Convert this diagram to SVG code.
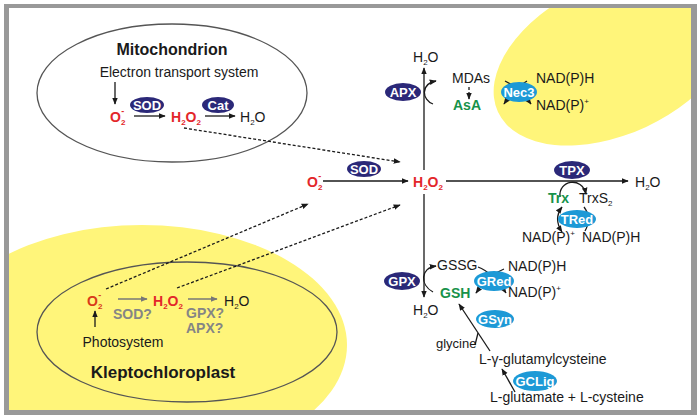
<svg xmlns="http://www.w3.org/2000/svg" width="700" height="420" viewBox="0 0 700 420">
<style>
text{font-family:"Liberation Sans",Arial,sans-serif;font-size:14px;fill:#1a1a1a}
.b{font-weight:bold}
.red{fill:#e3262a;font-weight:bold}
.orange{fill:#d83a1a;font-weight:bold}
.grn{fill:#17924a;font-weight:bold}
.gry{fill:#858585;font-weight:bold}
.ew{fill:#fff;font-weight:bold;font-size:13px;text-anchor:middle}
.navy{fill:#2b2878}
.blue{fill:#1d99d6}
.ln{stroke:#1a1a1a;stroke-width:1.3;fill:none}
.dash{stroke:#1a1a1a;stroke-width:1.3;fill:none;stroke-dasharray:3 2}
.gl{stroke:#777;stroke-width:1.5;fill:none}
.mem{fill:none;stroke:#555;stroke-width:1.3}
</style>
<defs>
<marker id="ah" viewBox="0 0 10 10" refX="9" refY="5" markerWidth="7" markerHeight="7" markerUnits="userSpaceOnUse" orient="auto-start-reverse"><path d="M0,1 L10,5 L0,9 z" fill="#1a1a1a"/></marker>
<marker id="ahg" viewBox="0 0 10 10" refX="9" refY="5" markerWidth="7" markerHeight="7" markerUnits="userSpaceOnUse" orient="auto"><path d="M0,1 L10,5 L0,9 z" fill="#777"/></marker>
<clipPath id="inner"><rect x="9" y="8" width="682" height="402"/></clipPath>
</defs>
<rect x="0" y="0" width="700" height="420" fill="#fff"/>
<rect x="4" y="4" width="693" height="411" fill="#999"/>
<rect x="9" y="8" width="682" height="402" fill="#fff"/>
<g clip-path="url(#inner)">
<ellipse cx="614" cy="58" rx="128" ry="76" transform="rotate(-25 614 58)" fill="#fff57a"/>
<ellipse cx="142" cy="345" rx="205" ry="120" fill="#fff57a"/>
</g>

<g id="mitochondrion">
<ellipse class="mem" cx="172" cy="93" rx="135" ry="69"/>
<text class="b" x="172" y="55" text-anchor="middle" style="font-size:16px">Mitochondrion</text>
<text x="179" y="77" text-anchor="middle">Electron transport system</text>
<line class="ln" x1="115" y1="82" x2="115" y2="104" marker-end="url(#ah)"/>
<text class="red" x="110" y="122">O<tspan dy="3" font-size="8">2</tspan><tspan dx="-4" dy="-11" font-size="9">-</tspan></text>
<ellipse class="navy" cx="147" cy="105" rx="17" ry="8"/>
<text class="ew" x="147" y="110">SOD</text>
<line class="ln" x1="134" y1="116" x2="165" y2="116" marker-end="url(#ah)"/>
<text class="red" x="171" y="122">H<tspan dy="3" font-size="8">2</tspan><tspan dy="-3">O</tspan><tspan dy="3" font-size="8">2</tspan></text>
<ellipse class="navy" cx="218" cy="105" rx="16" ry="8"/>
<text class="ew" x="218" y="110">Cat</text>
<line class="ln" x1="205" y1="116" x2="235" y2="116" marker-end="url(#ah)"/>
<text x="240" y="122">H<tspan dy="3" font-size="8">2</tspan><tspan dy="-3">O</tspan></text>
</g>

<g id="kleptochloroplast">
<ellipse class="mem" cx="187" cy="332" rx="150" ry="70"/>
<text class="b" x="163" y="378" text-anchor="middle" style="font-size:17px">Kleptochloroplast</text>
<text class="orange" x="87" y="306">O<tspan dy="3" font-size="8">2</tspan><tspan dx="-4" dy="-11" font-size="9">-</tspan></text>
<line class="gl" x1="118" y1="299" x2="147" y2="299" marker-end="url(#ahg)"/>
<text class="gry" x="113" y="319">SOD?</text>
<text class="red" x="153" y="306">H<tspan dy="3" font-size="8">2</tspan><tspan dy="-3">O</tspan><tspan dy="3" font-size="8">2</tspan></text>
<line class="gl" x1="188" y1="299" x2="217" y2="299" marker-end="url(#ahg)"/>
<text class="gry" x="186" y="318">GPX?</text>
<text class="gry" x="186" y="333">APX?</text>
<text x="224" y="306">H<tspan dy="3" font-size="8">2</tspan><tspan dy="-3">O</tspan></text>
<line class="ln" x1="95" y1="327" x2="95" y2="311" marker-end="url(#ah)"/>
<text x="123" y="347" text-anchor="middle">Photosystem</text>
</g>

<g id="connectors">
<line class="dash" x1="184" y1="128" x2="400" y2="162" marker-end="url(#ah)"/>
<line class="dash" x1="106" y1="289" x2="308" y2="204" marker-end="url(#ah)"/>
<line class="dash" x1="177" y1="288" x2="400" y2="205" marker-end="url(#ah)"/>
<line class="ln" x1="323" y1="181" x2="408" y2="181" marker-end="url(#ah)"/>
<line class="ln" x1="424" y1="170" x2="424" y2="68" marker-end="url(#ah)"/>
<line class="ln" x1="424" y1="194" x2="424" y2="297" marker-end="url(#ah)"/>
<line class="ln" x1="446" y1="181" x2="628" y2="181" marker-end="url(#ah)"/>
<path class="ln" d="M433,104 C422,100 420,84 436,81" marker-end="url(#ah)"/>
<line class="dash" x1="469" y1="87" x2="469" y2="99" marker-end="url(#ah)"/>
<path class="ln" d="M505,81 Q519,88 531,104" marker-end="url(#ah)"/>
<path class="ln" d="M527,81 Q515,88 504,104" marker-end="url(#ah)"/>
<path class="ln" d="M560,197 C558,180 582,176 586,194" marker-end="url(#ah)"/>
<path class="ln" d="M562,207 C556,215 556,223 562,232" marker-start="url(#ah)" marker-end="url(#ah)"/>
<path class="ln" d="M584,207 C590,215 590,222 585,231"/>
<path class="ln" d="M433,292 C420,285 420,268 436,266" marker-end="url(#ah)"/>
<path class="ln" d="M478,267 Q492,272 506,293" marker-end="url(#ah)"/>
<path class="ln" d="M504,269 Q490,274 476,293" marker-end="url(#ah)"/>
<line class="ln" x1="490" y1="351" x2="459" y2="304" marker-end="url(#ah)"/>
<line class="ln" x1="475" y1="345" x2="478" y2="333"/>
<line class="ln" x1="515" y1="392" x2="502" y2="369" marker-end="url(#ah)"/>
</g>

<g id="main-o2">
<text class="red" x="307" y="187">O<tspan dy="3" font-size="8">2</tspan><tspan dx="-4" dy="-11" font-size="9">-</tspan></text>
<ellipse class="navy" cx="364" cy="169" rx="17" ry="8"/>
<text class="ew" x="364" y="174">SOD</text>
</g>
<g id="main-h2o2">
<text class="red" x="413" y="187">H<tspan dy="3" font-size="8">2</tspan><tspan dy="-3">O</tspan><tspan dy="3" font-size="8">2</tspan></text>
</g>
<g id="apx">
<text x="413" y="62">H<tspan dy="3" font-size="8">2</tspan><tspan dy="-3">O</tspan></text>
<ellipse class="navy" cx="403" cy="92" rx="18" ry="9"/>
<text class="ew" x="403" y="97">APX</text>
<text x="452" y="83">MDAs</text>
<text class="grn" x="453" y="110">AsA</text>
</g>
<g id="nec3">
<ellipse class="blue" cx="519" cy="92" rx="18" ry="10"/>
<text class="ew" x="519" y="97">Nec3</text>
<text x="536" y="83">NAD(P)H</text>
<text x="536" y="110">NAD(P)<tspan dy="-6" font-size="8">+</tspan></text>
</g>
<g id="tpx">
<ellipse class="navy" cx="572" cy="170" rx="18" ry="9"/>
<text class="ew" x="572" y="175">TPX</text>
<text x="635" y="187">H<tspan dy="3" font-size="8">2</tspan><tspan dy="-3">O</tspan></text>
<text class="grn" x="548" y="203">Trx</text>
<text x="579" y="203">TrxS<tspan dy="3" font-size="8">2</tspan></text>
</g>
<g id="tred">
<ellipse class="blue" cx="577" cy="219" rx="19" ry="9"/>
<text class="ew" x="577" y="224">TRed</text>
<text x="522" y="242">NAD(P)<tspan dy="-6" font-size="8">+</tspan></text>
<text x="582" y="242">NAD(P)H</text>
</g>
<g id="gpx">
<ellipse class="navy" cx="402" cy="281" rx="18" ry="9"/>
<text class="ew" x="402" y="286">GPX</text>
<text x="413" y="315">H<tspan dy="3" font-size="8">2</tspan><tspan dy="-3">O</tspan></text>
<text x="437" y="270">GSSG</text>
<text class="grn" x="440" y="298">GSH</text>
</g>
<g id="gred">
<ellipse class="blue" cx="494" cy="281" rx="20" ry="10"/>
<text class="ew" x="494" y="286">GRed</text>
<text x="508" y="271">NAD(P)H</text>
<text x="508" y="297">NAD(P)<tspan dy="-6" font-size="8">+</tspan></text>
</g>
<g id="gsyn">
<ellipse class="blue" cx="495" cy="319" rx="19" ry="9"/>
<text class="ew" x="495" y="324">GSyn</text>
<text x="436" y="348" style="font-size:13px">glycine</text>
<text x="479" y="364">L-γ-glutamylcysteine</text>
</g>
<g id="gclig">
<ellipse class="blue" cx="535" cy="381" rx="22" ry="10"/>
<text class="ew" x="535" y="386">GCLig</text>
<text x="490" y="402">L-glutamate + L-cysteine</text>
</g>
</svg>
